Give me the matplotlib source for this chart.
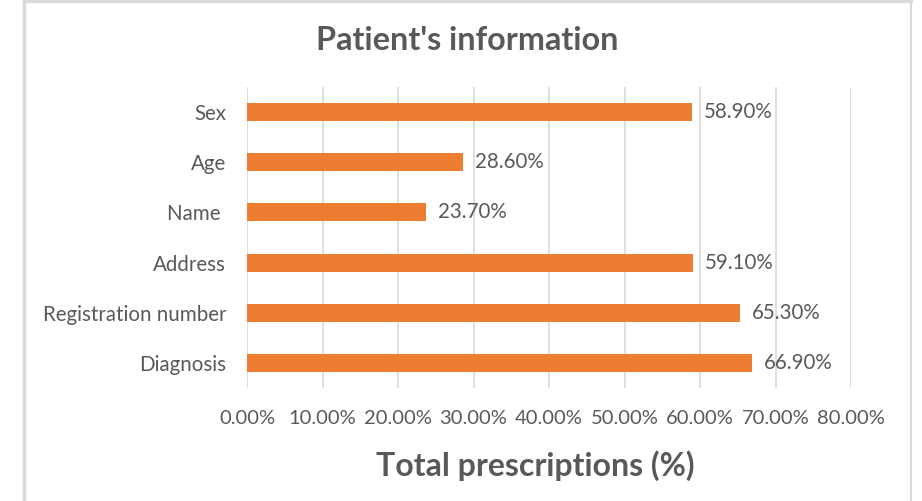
import matplotlib
matplotlib.use('Agg')
import matplotlib.pyplot as plt
from matplotlib.lines import Line2D

categories = ['Sex', 'Age', 'Name ', 'Address', 'Registration number', 'Diagnosis']
values = [58.9, 28.6, 23.7, 59.1, 65.3, 66.9]
xticks = [0, 10, 20, 30, 40, 50, 60, 70, 80]

plt.rcParams['font.family'] = ['Lato', 'DejaVu Sans']
grey = '#595959'

fig = plt.figure(figsize=(9.22, 5.01), dpi=100)
ax = fig.add_axes([247/922, 1-388/501, (851-247)/922, (388-87)/501])

y = list(range(len(categories)))[::-1]
ax.barh(y, values, height=0.36, color='#ED7D31', zorder=3)
for yi, v in zip(y, values):
    ax.text(v + 1.6, yi, '%.2f%%' % v, va='center', ha='left', fontsize=14.8, color=grey)

ax.set_xlim(0, 80)
ax.set_ylim(-0.5, 5.5)
ax.set_yticks(y)
ax.set_yticklabels(categories, fontsize=14.8, color=grey)
ax.set_xticks(xticks)
ax.set_xticklabels(['%.2f%%' % t for t in xticks], fontsize=14.5, color=grey)
ax.tick_params(length=0, pad=16, axis='x')
ax.tick_params(length=0, pad=15, axis='y')
ax.grid(axis='x', color='#D9D9D9', linewidth=1.2, zorder=0)
for s in ax.spines.values():
    s.set_visible(False)

fig.text(467/922, 1-40/501, "Patient's information", ha='center', va='center',
         fontsize=23.3, fontweight='bold', color=grey)
fig.text(535/922, 1-466/501, 'Total prescriptions (%)', ha='center', va='center',
         fontsize=23, fontweight='bold', color=grey)

# chart frame
fig.add_artist(Line2D([24/922, 24/922], [0, 1], transform=fig.transFigure, color='#D9D9D9', lw=2.5))
fig.add_artist(Line2D([24/922, 911/922], [1-1/501, 1-1/501], transform=fig.transFigure, color='#D9D9D9', lw=2.5))
fig.add_artist(Line2D([911/922, 911/922], [0, 1], transform=fig.transFigure, color='#D9D9D9', lw=1.5))

fig.savefig('out.png', dpi=100)
